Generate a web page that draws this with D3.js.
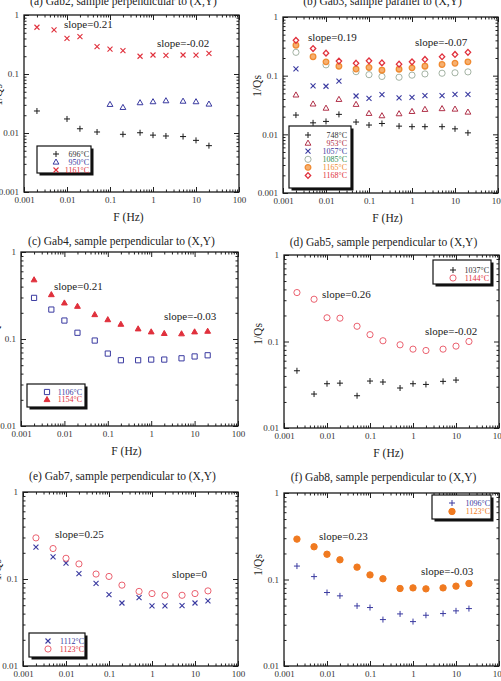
<!DOCTYPE html>
<html>
<head>
<meta charset="utf-8">
<script src="https://cdn.jsdelivr.net/npm/d3@7"></script>
<style>
  body { margin: 0; background: #fff; }
  svg { display: block; }
  text { font-family: 'Liberation Serif', 'Times New Roman', serif; }
</style>
</head>
<body>
<div id="chart"></div>
<script>
// frequencies (Hz) shared by every panel
const freqs = [0.002, 0.005, 0.01, 0.02, 0.05, 0.1, 0.2, 0.5, 1, 2, 5, 10, 20];
const xTicks = [0.001, 0.01, 0.1, 1, 10, 100];
const xTickLabels = ["0.001", "0.01", "0.1", "1", "10", "100"];
const yTicks3 = [0.001, 0.01, 0.1, 1];
const yTickLabels3 = ["0.001", "0.01", "0.1", "1"];
const yTicks2 = [0.01, 0.1, 1];
const yTickLabels2 = ["0.01", "0.1", "1"];

// 1/Qs values (null = no point)
const gab2_696 = [0.0236, null, 0.0173, 0.0118, 0.0104, null, 0.0095, 0.0101, 0.0092, 0.0089, 0.0087, 0.0075, 0.0061];
const gab2_950 = [null, null, null, null, null, 0.0306, 0.0272, 0.0327, 0.034, 0.0353, 0.0347, 0.034, 0.031];
const gab2_1161 = [0.62, 0.56, 0.40, 0.43, 0.29, 0.265, 0.25, 0.20, 0.21, 0.207, 0.21, 0.209, 0.224];

const gab3_748 = [0.0213, 0.0157, 0.0166, 0.0219, 0.0162, 0.0144, 0.0153, 0.0138, 0.0135, 0.0135, 0.0135, 0.0124, 0.0106];
const gab3_953 = [0.047, 0.033, 0.028, 0.0395, 0.0325, 0.0228, 0.0208, 0.0225, 0.0246, 0.0267, 0.0275, 0.027, 0.024];
const gab3_1057 = [0.13, 0.067, 0.066, 0.081, 0.045, 0.041, 0.0475, 0.0417, 0.0428, 0.0457, 0.0457, 0.048, 0.048];
const gab3_1085 = [0.25, null, 0.153, null, 0.117, 0.104, 0.097, 0.094, 0.102, 0.107, 0.110, 0.112, 0.116];
const gab3_1165 = [0.33, 0.21, 0.172, 0.145, 0.13, 0.138, 0.124, 0.129, 0.136, 0.145, 0.155, 0.163, 0.172];
const gab3_1168 = [0.40, 0.29, 0.242, 0.177, 0.163, 0.179, 0.165, 0.157, 0.172, 0.189, 0.21, 0.23, 0.25];

const gab4_1106 = [0.297, 0.218, 0.163, 0.118, 0.096, 0.068, 0.057, 0.057, 0.058, 0.058, 0.060, 0.063, 0.065];
const gab4_1154 = [0.48, 0.324, 0.26, 0.238, 0.191, 0.167, 0.148, 0.131, 0.121, 0.116, 0.115, 0.121, 0.123];

const gab5_1037 = [0.0459, 0.0247, 0.0325, 0.033, 0.0236, 0.0349, 0.034, 0.029, 0.0325, 0.0319, 0.0346, 0.0358, null];
const gab5_1144 = [0.368, 0.308, 0.188, 0.186, 0.15, 0.12, 0.102, 0.0916, 0.0816, 0.0787, 0.0816, 0.0884, 0.10];

const gab7_1112 = [0.232, 0.18, 0.152, 0.115, 0.089, 0.066, 0.053, 0.061, 0.049, 0.049, 0.0495, 0.053, 0.056];
const gab7_1123 = [0.297, 0.224, 0.173, 0.149, 0.114, 0.107, 0.085, 0.072, 0.068, 0.065, 0.065, 0.068, 0.073];

const gab8_1096 = [0.143, 0.108, 0.0707, 0.0647, 0.0495, 0.0474, 0.0344, 0.040, 0.0326, 0.0386, 0.0404, 0.0434, 0.0461];
const gab8_1123 = [0.293, 0.239, 0.196, 0.169, 0.139, 0.113, 0.102, 0.0787, 0.080, 0.078, 0.080, 0.0838, 0.090];

const width = 501;
const height = 681;
const serif = "'Liberation Serif', 'Times New Roman', serif";

const svg = d3.select("#chart")
    .append("svg")
    .attr("width", width)
    .attr("height", height);

const panels = [
    {
        title: "(a) Gab2, sample perpendicular to (X,Y)",
        box: { l: 24, r: 239, t: 15, b: 192 }, yMin: 0.001, titleY: 5, yLabelY: 95,
        series: [
            { name: "696°C", values: gab2_696, sym: "plus", color: "#1a1a1a", text: "#333" },
            { name: "950°C", values: gab2_950, sym: "triangle", color: "#3a3aa0", text: "#3a3aa0" },
            { name: "1161°C", values: gab2_1161, sym: "cross", color: "#e0303c", text: "#e0303c" }
        ],
        legend: { x: 37, y: 146, w: 54, h: 27, symX: 56, textR: 89, row0: 154, dy: 8 },
        slopes: [{ text: "slope=0.21", x: 64, y: 28 }, { text: "slope=-0.02", x: 157, y: 47 }]
    },
    {
        title: "(b) Gab3, sample parallel to (X,Y)",
        box: { l: 283, r: 498, t: 17, b: 193 }, yMin: 0.001, titleY: 5, yLabelY: 86,
        series: [
            { name: "748°C", values: gab3_748, sym: "plus", color: "#1a1a1a", text: "#333" },
            { name: "953°C", values: gab3_953, sym: "triangle", color: "#b03048", text: "#b03048" },
            { name: "1057°C", values: gab3_1057, sym: "cross", color: "#3a3aa0", text: "#3a3aa0" },
            { name: "1085°C", values: gab3_1085, sym: "circle", color: "#9aaa9a", text: "#2e8b4e" },
            { name: "1165°C", values: gab3_1165, sym: "blob", color: "#f08a30", text: "#f08a30" },
            { name: "1168°C", values: gab3_1168, sym: "diamond", color: "#e0303c", text: "#e0303c" }
        ],
        legend: { x: 289, y: 126, w: 62, h: 62, symX: 308, textR: 347, row0: 135, dy: 8.1 },
        slopes: [{ text: "slope=0.19", x: 308, y: 41 }, { text: "slope=-0.07", x: 415, y: 46 }]
    },
    {
        title: "(c) Gab4, sample perpendicular to (X,Y)",
        box: { l: 21, r: 238, t: 252, b: 426 }, yMin: 0.01, titleY: 245, yLabelY: 332,
        series: [
            { name: "1106°C", values: gab4_1106, sym: "square", color: "#3a3aa0", text: "#3a3aa0" },
            { name: "1154°C", values: gab4_1154, sym: "triangleFill", color: "#e0303c", text: "#e0303c" }
        ],
        legend: { x: 27, y: 384, w: 58, h: 23, symX: 47, textR: 82, row0: 392, dy: 7.5 },
        slopes: [{ text: "slope=0.21", x: 54, y: 290 }, { text: "slope=-0.03", x: 164, y: 320 }]
    },
    {
        title: "(d) Gab5, sample perpendicular to (X,Y)",
        box: { l: 284, r: 499, t: 255, b: 428 }, yMin: 0.01, titleY: 246, yLabelY: 334,
        series: [
            { name: "1037°C", values: gab5_1037, sym: "plus", color: "#1a1a1a", text: "#333" },
            { name: "1144°C", values: gab5_1144, sym: "circle", color: "#e85060", text: "#e0303c" }
        ],
        legend: { x: 433, y: 260, w: 58, h: 24, symX: 453, textR: 489, row0: 270, dy: 8 },
        slopes: [{ text: "slope=0.26", x: 322, y: 298 }, { text: "slope=-0.02", x: 425, y: 335 }]
    },
    {
        title: "(e) Gab7, sample perpendicular to (X,Y)",
        box: { l: 23, r: 238, t: 492, b: 666 }, yMin: 0.01, titleY: 480, yLabelY: 570,
        series: [
            { name: "1112°C", values: gab7_1112, sym: "cross", color: "#3a3aa0", text: "#3a3aa0" },
            { name: "1123°C", values: gab7_1123, sym: "circle", color: "#e85060", text: "#e0303c" }
        ],
        legend: { x: 29, y: 633, w: 56, h: 24, symX: 48, textR: 84, row0: 641, dy: 8 },
        slopes: [{ text: "slope=0.25", x: 55, y: 538 }, { text: "slope=0", x: 172, y: 578 }]
    },
    {
        title: "(f) Gab8, sample perpendicular to (X,Y)",
        box: { l: 284, r: 499, t: 493, b: 666 }, yMin: 0.01, titleY: 481, yLabelY: 565,
        series: [
            { name: "1096°C", values: gab8_1096, sym: "plus", color: "#3a3aa0", text: "#3a3aa0" },
            { name: "1123°C", values: gab8_1123, sym: "dot", color: "#f07a20", text: "#f07a20" }
        ],
        legend: { x: 432, y: 495, w: 59, h: 24, symX: 452, textR: 490, row0: 503, dy: 8.5 },
        slopes: [{ text: "slope=0.23", x: 319, y: 540 }, { text: "slope=-0.03", x: 421, y: 575 }]
    }
];

// marker shapes
function drawSymbol(g, type, x, y, color) {
    const p = d3.path();
    let fill = "none", sw = 1;
    if (type === "plus") {
        p.moveTo(x - 3, y); p.lineTo(x + 3, y);
        p.moveTo(x, y - 3); p.lineTo(x, y + 3);
    } else if (type === "cross") {
        p.moveTo(x - 2.5, y - 2.5); p.lineTo(x + 2.5, y + 2.5);
        p.moveTo(x - 2.5, y + 2.5); p.lineTo(x + 2.5, y - 2.5);
        sw = 1.1;
    } else if (type === "triangle" || type === "triangleFill") {
        p.moveTo(x, y - 3); p.lineTo(x + 2.9, y + 2.1); p.lineTo(x - 2.9, y + 2.1); p.closePath();
        if (type === "triangleFill") fill = color;
    } else if (type === "square") {
        p.rect(x - 2.6, y - 2.6, 5.2, 5.2);
    } else if (type === "circle") {
        p.arc(x, y, 3.1, 0, 2 * Math.PI);
        sw = 0.9;
    } else if (type === "dot") {
        p.arc(x, y, 3.2, 0, 2 * Math.PI);
        fill = color;
    } else if (type === "blob") {
        p.arc(x, y, 2.8, 0, 2 * Math.PI);
        fill = "#f6b070";
        sw = 1.3;
    } else if (type === "diamond") {
        p.moveTo(x, y - 2.9); p.lineTo(x + 2.7, y); p.lineTo(x, y + 2.9); p.lineTo(x - 2.7, y); p.closePath();
        sw = 1.3;
    }
    g.append("path")
        .attr("d", p.toString())
        .attr("fill", fill)
        .attr("stroke", color)
        .attr("stroke-width", sw);
}

function minorTicks(lo, hi) {
    const out = [];
    for (let e = Math.round(Math.log10(lo)); e < Math.round(Math.log10(hi)); e++) {
        for (let k = 2; k <= 9; k++) out.push(k * Math.pow(10, e));
    }
    return out;
}

function tickSide(g, axis, tr, vals, size, labels) {
    axis.tickValues(vals).tickSizeInner(size).tickSizeOuter(0).tickPadding(5)
        .tickFormat((d, i) => labels ? labels[i] : "");
    const a = g.append("g").attr("transform", tr).call(axis);
    a.select(".domain").remove();
    a.selectAll("line").attr("stroke", "#222");
    a.selectAll("text")
        .attr("fill", "#333")
        .attr("font-family", serif)
        .attr("font-size", "9px");
}

panels.forEach(panel => {
    const b = panel.box;
    const g = svg.append("g");

    const x = d3.scaleLog().domain([0.001, 100]).range([b.l, b.r]);
    const y = d3.scaleLog().domain([panel.yMin, 1]).range([b.b, b.t]);

    const yTicks = panel.yMin === 0.001 ? yTicks3 : yTicks2;
    const yLabels = panel.yMin === 0.001 ? yTickLabels3 : yTickLabels2;
    const xMinor = minorTicks(0.001, 100);
    const yMinor = minorTicks(panel.yMin, 1);

    // inward ticks on all four sides
    tickSide(g, d3.axisBottom(x), `translate(0,${b.b})`, xTicks, -5, xTickLabels);
    tickSide(g, d3.axisBottom(x), `translate(0,${b.b})`, xMinor, -2.5, null);
    tickSide(g, d3.axisTop(x), `translate(0,${b.t})`, xTicks, -5, null);
    tickSide(g, d3.axisTop(x), `translate(0,${b.t})`, xMinor, -2.5, null);
    tickSide(g, d3.axisLeft(y), `translate(${b.l},0)`, yTicks, -5, yLabels);
    tickSide(g, d3.axisLeft(y), `translate(${b.l},0)`, yMinor, -2.5, null);
    tickSide(g, d3.axisRight(y), `translate(${b.r},0)`, yTicks, -5, null);
    tickSide(g, d3.axisRight(y), `translate(${b.r},0)`, yMinor, -2.5, null);

    // frame
    g.append("rect")
        .attr("x", b.l).attr("y", b.t)
        .attr("width", b.r - b.l).attr("height", b.b - b.t)
        .attr("fill", "none")
        .attr("stroke", "#1a1a1a")
        .attr("stroke-width", 1.3);

    // data markers
    panel.series.forEach(s => {
        s.values.forEach((v, i) => {
            if (v == null) return;
            drawSymbol(g, s.sym, x(freqs[i]), y(v), s.color);
        });
    });

    // slope notes
    panel.slopes.forEach(n => {
        g.append("text")
            .attr("x", n.x).attr("y", n.y)
            .attr("fill", "#222")
            .attr("font-family", serif)
            .attr("font-size", "11px")
            .text(n.text);
    });

    // title and axis labels
    g.append("text")
        .attr("x", (b.l + b.r) / 2 - 8).attr("y", panel.titleY)
        .attr("text-anchor", "middle")
        .attr("fill", "#222")
        .attr("font-family", serif)
        .attr("font-size", "11.5px")
        .text(panel.title);

    g.append("text")
        .attr("x", (b.l + b.r) / 2 - 3).attr("y", b.b + 29)
        .attr("text-anchor", "middle")
        .attr("fill", "#222")
        .attr("font-family", serif)
        .attr("font-size", "11.5px")
        .text("F (Hz)");

    g.append("text")
        .attr("transform", `translate(${b.l - 26},${panel.yLabelY}) rotate(-90)`)
        .attr("text-anchor", "middle")
        .attr("dy", "0.35em")
        .attr("fill", "#222")
        .attr("font-family", serif)
        .attr("font-size", "11.5px")
        .text("1/Qs");

    // legend box with drop shadow
    const L = panel.legend;
    g.append("rect")
        .attr("x", L.x + 2.5).attr("y", L.y + 2.5)
        .attr("width", L.w).attr("height", L.h)
        .attr("fill", "#111");
    g.append("rect")
        .attr("x", L.x).attr("y", L.y)
        .attr("width", L.w).attr("height", L.h)
        .attr("fill", "#fff")
        .attr("stroke", "#111")
        .attr("stroke-width", 1.2);
    panel.series.forEach((s, i) => {
        const ry = L.row0 + i * L.dy;
        drawSymbol(g, s.sym, L.symX, ry, s.color);
        g.append("text")
            .attr("x", L.textR).attr("y", ry)
            .attr("dy", "0.35em")
            .attr("text-anchor", "end")
            .attr("fill", s.text)
            .attr("font-family", serif)
            .attr("font-size", "8px")
            .text(s.name);
    });
});
</script>
</body>
</html>
